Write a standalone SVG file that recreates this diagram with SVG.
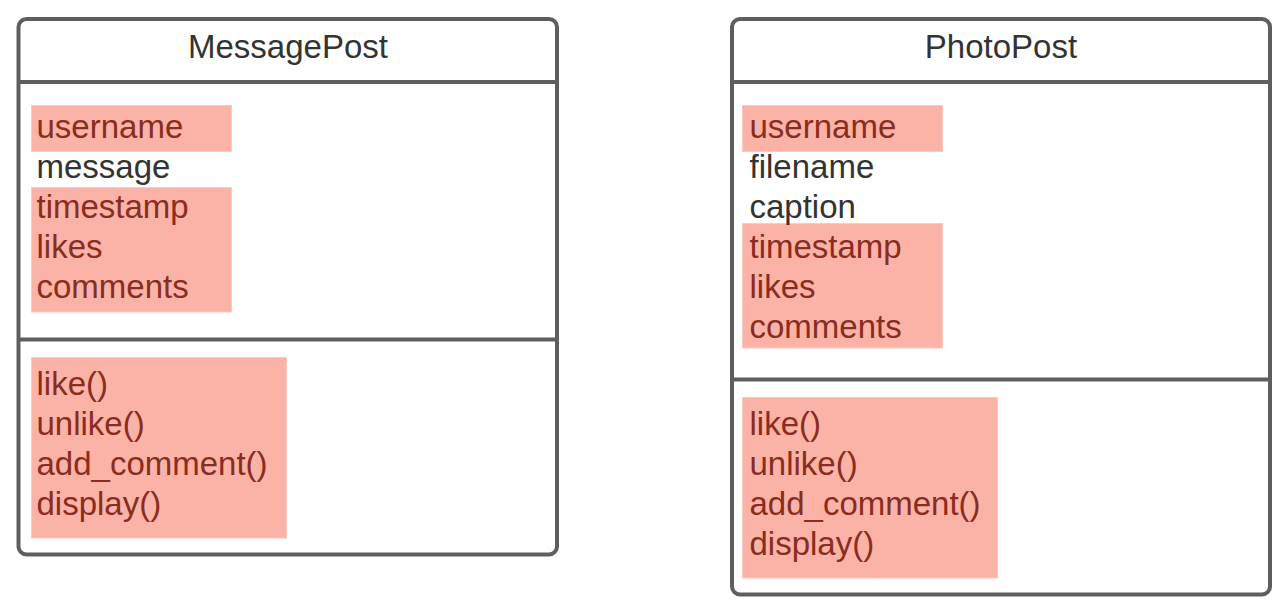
<svg xmlns="http://www.w3.org/2000/svg" width="1288" height="614" viewBox="0 0 1288 614">
<style>
.box{fill:#ffffff;stroke:#5e5e5e;stroke-width:4}
.sep{stroke:#5e5e5e;stroke-width:4;fill:none}
.hl{fill:#fbb3a7;stroke:#fcc8bf;stroke-width:1}
text{font-family:"Liberation Sans",Arial,sans-serif;font-size:33px}
.title{fill:#333333;text-anchor:middle}
.plain{fill:#333333}
.red{fill:#8a2c20}
</style>
<rect width="1288" height="614" fill="#ffffff"/>
<g id="MessagePost">
<rect class="box" x="18.5" y="19" width="538.5" height="535.5" rx="8"/>
<line class="sep" x1="18.5" y1="82" x2="557" y2="82"/>
<line class="sep" x1="18.5" y1="339.5" x2="557" y2="339.5"/>
<text class="title" x="288" y="57.5">MessagePost</text>
<rect class="hl" x="31.5" y="105.5" width="200" height="46"/>
<rect class="hl" x="31.5" y="187.5" width="200" height="124.5"/>
<rect class="hl" x="31.5" y="357.5" width="255" height="180.5"/>
<text class="red" x="36.5" y="137.5">username</text>
<text class="plain" x="36.5" y="177.5">message</text>
<text class="red" x="36.5" y="217.5">timestamp</text>
<text class="red" x="36.5" y="257.5">likes</text>
<text class="red" x="36.5" y="297.5">comments</text>
<text class="red" x="36.5" y="395">like()</text>
<text class="red" x="36.5" y="435">unlike()</text>
<text class="red" x="36.5" y="475">add_comment()</text>
<text class="red" x="36.5" y="515">display()</text>
</g>
<g id="PhotoPost">
<rect class="box" x="732" y="19" width="538" height="575.5" rx="8"/>
<line class="sep" x1="732" y1="82" x2="1270" y2="82"/>
<line class="sep" x1="732" y1="379.5" x2="1270" y2="379.5"/>
<text class="title" x="1001" y="57.5">PhotoPost</text>
<rect class="hl" x="742.5" y="105.5" width="200" height="46"/>
<rect class="hl" x="742.5" y="223.5" width="200" height="124.5"/>
<rect class="hl" x="742.5" y="397.5" width="255" height="180.5"/>
<text class="red" x="749.5" y="137.5">username</text>
<text class="plain" x="749.5" y="177.5">filename</text>
<text class="plain" x="749.5" y="217.5">caption</text>
<text class="red" x="749.5" y="257.5">timestamp</text>
<text class="red" x="749.5" y="297.5">likes</text>
<text class="red" x="749.5" y="337.5">comments</text>
<text class="red" x="749.5" y="435">like()</text>
<text class="red" x="749.5" y="475">unlike()</text>
<text class="red" x="749.5" y="515">add_comment()</text>
<text class="red" x="749.5" y="555">display()</text>
</g>
<g id="connectors"/>
</svg>
